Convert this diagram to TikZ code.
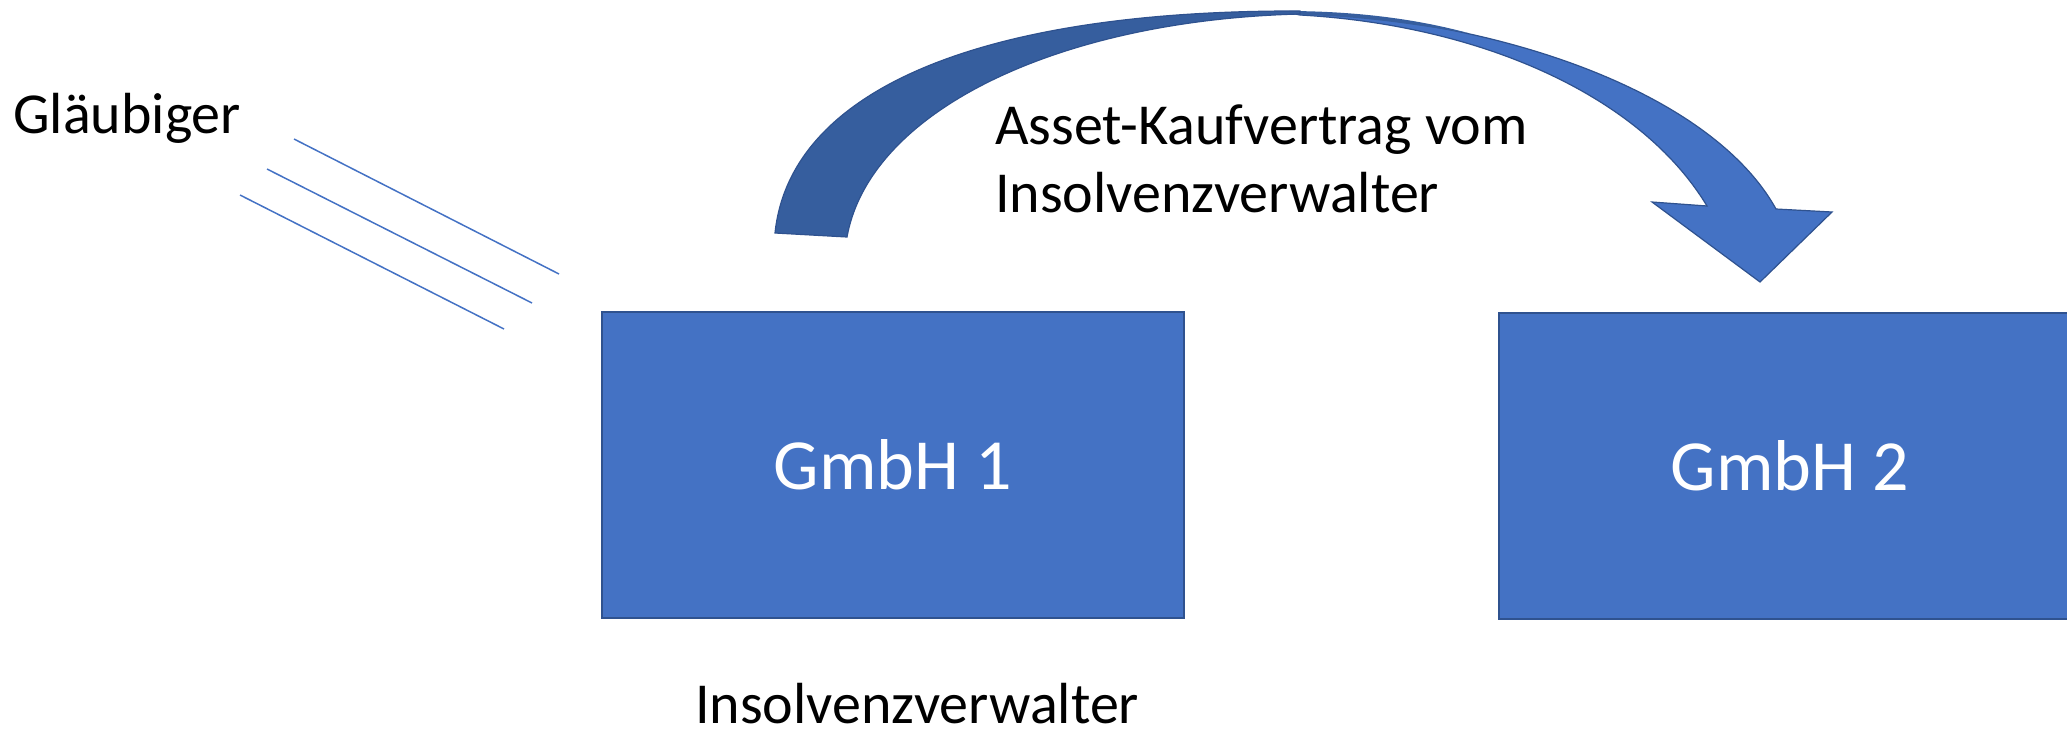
\documentclass[tikz,border=0pt]{standalone}
\usepackage{fontspec}
\setmainfont{Carlito}
\definecolor{boxblue}{HTML}{4472C4}
\definecolor{boxedge}{HTML}{2F528F}
\definecolor{darkband}{HTML}{365E9E}
\begin{document}
\begin{tikzpicture}[x=1pt,y=-1pt,
  company/.style={draw=boxedge, fill=boxblue, line width=2pt, minimum width=582pt,
    minimum height=306pt, inner sep=0pt, text=white, font=\fontsize{72}{86}\selectfont},
  txt/.style={inner sep=0pt, font=\fontsize{58}{70}\selectfont, text=black},
  hatch/.style={draw=boxblue, line width=1.5pt},
  arrowpart/.style={draw=boxedge, line width=1.2pt, line join=miter}]
\useasboundingbox (0,0) rectangle (2067,734);
\clip (0,0) rectangle (2067,734);

% companies
\node[company] (g1) at (893,464.5) {GmbH 1};
\node[company] (g2) at (1790,466) {GmbH 2};

% creditor lines
\coordinate (l1a) at (294,139); \coordinate (l1b) at (559,274);
\coordinate (l2a) at (267,169); \coordinate (l2b) at (532,303);
\coordinate (l3a) at (240,195); \coordinate (l3b) at (504,329);
\draw[hatch] (l1a) -- (l1b);
\draw[hatch] (l2a) -- (l2b);
\draw[hatch] (l3a) -- (l3b);

% curved arrow: light front part with head
\fill[boxblue, arrowpart] (1285,12) .. controls (1490,16) and (1710,90) .. (1776,209)
  -- (1832,212) -- (1760,282) -- (1652,202) -- (1707,206)
  .. controls (1640,95) and (1480,25) .. (1300,15) -- cycle;
% dark sliver along the top of the light part
\fill[darkband] (1285,11) .. controls (1360,11) and (1420,20) .. (1468,33)
  .. controls (1410,24) and (1360,16) .. (1300,15) -- cycle;
% dark back part
\fill[darkband, arrowpart] (775,233) .. controls (790,90) and (980,10) .. (1300,11)
  -- (1300,14) .. controls (1060,20) and (870,110) .. (847,237) -- cycle;

% texts
\node[txt, anchor=base west] (glaeubiger) at (13,133) {Gläubiger};
\node[txt, anchor=base west] (kauf1) at (995,144) {Asset-Kaufvertrag vom};
\node[txt, anchor=base west] (kauf2) at (995,212) {Insolvenzverwalter};
\node[txt, anchor=base west] (verwalter) at (695,723) {Insolvenzverwalter};
\end{tikzpicture}
\end{document}
